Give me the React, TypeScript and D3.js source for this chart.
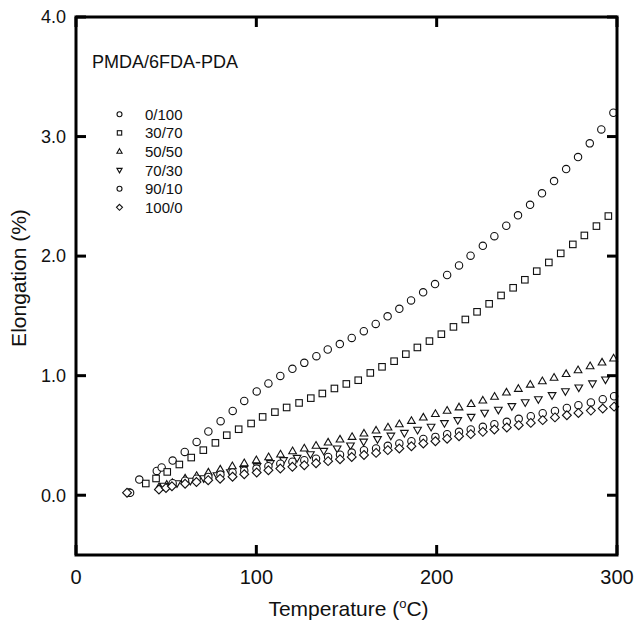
import React from "react";
import * as d3 from "d3";

const W = 636;
const H = 625;
const PLOT = { left: 76, right: 617, top: 17, bottom: 555 };

const xDomain = [0, 300];
const yDomain = [-0.5, 4.0];
const xTicks = [0, 100, 200, 300];
const yTicks = [0, 1, 2, 3, 4];
const xTickLabels = ["0", "100", "200", "300"];
const yTickLabels = ["0.0", "1.0", "2.0", "3.0", "4.0"];

const legendTitle = "PMDA/6FDA-PDA";
const seriesNames = ["0/100", "30/70", "50/50", "70/30", "90/10", "100/0"];
const seriesShapes = ["circle", "square", "up", "down", "circle", "diamond"];

const temp_0_100 = [29.4, 35.1, 44.8, 47.5, 53.6, 60.3, 66.9, 73.4, 80.2, 86.9, 93.3, 100.2, 106.7, 113.3, 120.0, 126.6, 133.3, 139.6, 146.3, 152.9, 159.6, 166.2, 172.8, 179.3, 185.8, 192.5, 199.1, 205.8, 212.4, 218.8, 225.6, 232.0, 238.6, 245.1, 251.8, 258.4, 265.1, 271.8, 278.4, 284.9, 291.3, 298.0];
const elong_0_100 = [0.023, 0.131, 0.203, 0.232, 0.290, 0.362, 0.446, 0.533, 0.619, 0.705, 0.789, 0.868, 0.935, 0.998, 1.057, 1.107, 1.163, 1.219, 1.264, 1.316, 1.372, 1.433, 1.496, 1.559, 1.629, 1.697, 1.766, 1.842, 1.922, 2.004, 2.086, 2.167, 2.254, 2.341, 2.429, 2.525, 2.628, 2.728, 2.828, 2.943, 3.060, 3.199];

const temp_30_70 = [38.7, 44.4, 50.6, 57.3, 63.9, 70.6, 77.3, 83.6, 90.2, 97.1, 103.5, 110.3, 116.8, 123.7, 130.2, 136.6, 143.3, 149.9, 156.5, 163.2, 169.7, 176.4, 182.9, 189.3, 196.0, 202.6, 209.3, 215.9, 222.4, 229.1, 235.7, 242.4, 248.9, 255.5, 262.2, 268.8, 275.5, 281.9, 288.6, 295.2];
const elong_30_70 = [0.098, 0.140, 0.195, 0.257, 0.315, 0.377, 0.438, 0.502, 0.552, 0.600, 0.655, 0.695, 0.734, 0.772, 0.812, 0.851, 0.893, 0.931, 0.962, 1.023, 1.074, 1.121, 1.180, 1.236, 1.289, 1.347, 1.408, 1.470, 1.534, 1.601, 1.671, 1.735, 1.802, 1.874, 1.947, 2.023, 2.098, 2.173, 2.251, 2.335];

const temp_50_50 = [46.0, 50.3, 53.4, 60.5, 66.9, 73.4, 80.0, 86.7, 93.3, 100.0, 106.8, 113.4, 120.1, 126.6, 133.1, 139.8, 146.4, 153.1, 159.7, 166.4, 173.0, 179.3, 186.0, 192.6, 199.3, 205.8, 212.4, 219.1, 225.6, 232.1, 238.7, 245.3, 251.9, 258.6, 265.1, 271.8, 278.4, 285.1, 291.7, 298.1];
const elong_50_50 = [0.067, 0.088, 0.103, 0.140, 0.162, 0.190, 0.215, 0.243, 0.268, 0.293, 0.318, 0.341, 0.368, 0.391, 0.414, 0.441, 0.466, 0.488, 0.516, 0.541, 0.567, 0.594, 0.622, 0.650, 0.680, 0.707, 0.735, 0.763, 0.792, 0.824, 0.859, 0.890, 0.925, 0.954, 0.983, 1.014, 1.046, 1.079, 1.110, 1.144];

const temp_70_30 = [48.6, 56.0, 63.4, 70.8, 78.2, 85.6, 93.0, 100.4, 107.8, 115.1, 122.6, 130.0, 137.4, 144.8, 152.2, 159.5, 167.2, 174.6, 182.1, 189.4, 196.9, 204.3, 211.7, 219.1, 226.6, 234.2, 241.7, 249.1, 256.4, 264.0, 271.4, 278.8, 286.4, 293.6];
const elong_70_30 = [0.079, 0.100, 0.121, 0.142, 0.167, 0.192, 0.218, 0.243, 0.268, 0.293, 0.312, 0.343, 0.371, 0.391, 0.416, 0.448, 0.469, 0.498, 0.521, 0.547, 0.572, 0.603, 0.628, 0.655, 0.690, 0.715, 0.745, 0.777, 0.803, 0.837, 0.870, 0.901, 0.935, 0.968];

const temp_90_10 = [30.0, 53.6, 60.5, 66.9, 73.4, 80.1, 86.8, 93.3, 100.1, 106.7, 113.3, 120.0, 126.6, 133.1, 139.8, 146.4, 152.9, 159.7, 166.4, 172.9, 179.3, 186.0, 192.6, 199.3, 205.8, 212.4, 218.9, 225.6, 232.0, 238.9, 245.5, 252.2, 258.8, 265.6, 272.2, 278.6, 285.5, 292.1, 298.4];
const elong_90_10 = [0.020, 0.100, 0.121, 0.138, 0.153, 0.173, 0.190, 0.205, 0.223, 0.243, 0.264, 0.280, 0.293, 0.305, 0.320, 0.339, 0.357, 0.377, 0.391, 0.413, 0.433, 0.452, 0.471, 0.488, 0.510, 0.530, 0.550, 0.572, 0.594, 0.614, 0.639, 0.661, 0.686, 0.705, 0.730, 0.753, 0.776, 0.803, 0.828];

const temp_100_0 = [28.3, 46.0, 49.9, 53.2, 60.5, 66.8, 73.3, 79.9, 86.8, 93.3, 100.2, 106.7, 113.3, 120.0, 126.6, 133.1, 139.8, 146.4, 152.9, 159.7, 166.4, 172.9, 179.3, 186.0, 192.6, 199.3, 205.8, 212.4, 218.9, 225.6, 232.0, 238.9, 245.5, 252.2, 258.8, 265.6, 272.2, 278.6, 285.5, 292.1, 298.4];
const elong_100_0 = [0.021, 0.048, 0.061, 0.075, 0.096, 0.110, 0.126, 0.138, 0.155, 0.176, 0.190, 0.209, 0.223, 0.238, 0.251, 0.268, 0.285, 0.301, 0.320, 0.337, 0.354, 0.377, 0.391, 0.410, 0.433, 0.452, 0.473, 0.494, 0.511, 0.530, 0.550, 0.567, 0.586, 0.605, 0.628, 0.651, 0.669, 0.688, 0.708, 0.725, 0.741];

const seriesTemps = [temp_0_100, temp_30_70, temp_50_50, temp_70_30, temp_90_10, temp_100_0];
const seriesElongs = [elong_0_100, elong_30_70, elong_50_50, elong_70_30, elong_90_10, elong_100_0];

const FONT = "'Liberation Sans', Arial, Helvetica, sans-serif";

function Marker({ shape, x, y, s }: { shape: string; x: number; y: number; s: number }) {
  const common = { fill: "white", stroke: "#111", strokeWidth: 1.1 };
  if (shape === "circle") return <circle cx={x} cy={y} r={s * 0.5} {...common} />;
  if (shape === "square")
    return <rect x={x - s * 0.44} y={y - s * 0.44} width={s * 0.88} height={s * 0.88} {...common} />;
  if (shape === "up") {
    const h = s * 0.9;
    return (
      <path
        d={`M${x},${y - h * 0.62} L${x + s * 0.52},${y + h * 0.38} L${x - s * 0.52},${y + h * 0.38} Z`}
        {...common}
      />
    );
  }
  if (shape === "down") {
    const h = s * 0.9;
    return (
      <path
        d={`M${x},${y + h * 0.62} L${x + s * 0.52},${y - h * 0.38} L${x - s * 0.52},${y - h * 0.38} Z`}
        {...common}
      />
    );
  }
  const d = s * 0.6;
  return <path d={`M${x},${y - d} L${x + d},${y} L${x},${y + d} L${x - d},${y} Z`} {...common} />;
}

export default function App() {
  const x = d3.scaleLinear().domain(xDomain).range([PLOT.left, PLOT.right]);
  const y = d3.scaleLinear().domain(yDomain).range([PLOT.bottom, PLOT.top]);
  const tickLen = 10;

  return (
    <svg
      width={W}
      height={H}
      style={{ position: "absolute", left: 0, top: 0, background: "white" }}
      fontFamily={FONT}
    >
      <rect x={0} y={0} width={W} height={H} fill="white" />

      {/* data */}
      {seriesTemps.map((temps, si) =>
        temps.map((t, i) => (
          <Marker key={`${si}-${i}`} shape={seriesShapes[si]} x={x(t)} y={y(seriesElongs[si][i])} s={7.4} />
        ))
      )}

      {/* frame */}
      <rect
        x={PLOT.left}
        y={PLOT.top}
        width={PLOT.right - PLOT.left}
        height={PLOT.bottom - PLOT.top}
        fill="none"
        stroke="#000"
        strokeWidth={3}
      />

      {/* y ticks */}
      {yTicks.map((v, i) => (
        <g key={`yt${i}`}>
          <line x1={PLOT.left} x2={PLOT.left + tickLen} y1={y(v)} y2={y(v)} stroke="#000" strokeWidth={3} />
          <line x1={PLOT.right} x2={PLOT.right - tickLen} y1={y(v)} y2={y(v)} stroke="#000" strokeWidth={3} />
          <text x={66} y={y(v)} dy="0.35em" textAnchor="end" fontSize={18} fill="#111">
            {yTickLabels[i]}
          </text>
        </g>
      ))}

      {/* x ticks */}
      {xTicks.map((v, i) => (
        <g key={`xt${i}`}>
          <line x1={x(v)} x2={x(v)} y1={PLOT.bottom} y2={PLOT.bottom - tickLen} stroke="#000" strokeWidth={3} />
          <line x1={x(v)} x2={x(v)} y1={PLOT.top} y2={PLOT.top + tickLen} stroke="#000" strokeWidth={3} />
          <text x={x(v)} y={584} textAnchor="middle" fontSize={20} fill="#111">
            {xTickLabels[i]}
          </text>
        </g>
      ))}

      {/* axis titles */}
      <text x={(PLOT.left + PLOT.right) / 2 + 2} y={616} textAnchor="middle" fontSize={21} fill="#111">
        Temperature (
        <tspan dy={-8} fontSize={13}>
          o
        </tspan>
        <tspan dy={8}>C)</tspan>
      </text>
      <text
        transform={`translate(26,${(PLOT.top + PLOT.bottom) / 2 - 8}) rotate(-90)`}
        textAnchor="middle"
        fontSize={21}
        fill="#111"
      >
        Elongation (%)
      </text>

      {/* legend */}
      <text x={92} y={68} fontSize={18} fill="#111">
        {legendTitle}
      </text>
      {seriesNames.map((name, i) => {
        const ly = 114.3 + i * 18.6;
        return (
          <g key={`lg${i}`}>
            <Marker shape={seriesShapes[i]} x={119.5} y={ly} s={5} />
            <text x={145} y={ly} dy="0.36em" fontSize={15} fill="#111">
              {name}
            </text>
          </g>
        );
      })}
    </svg>
  );
}
